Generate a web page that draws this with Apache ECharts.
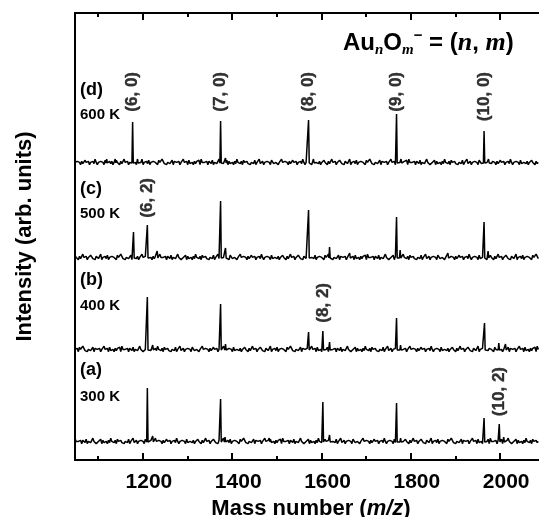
<!DOCTYPE html>
<html>
<head>
<meta charset="utf-8">
<script src="https://cdn.jsdelivr.net/npm/echarts@6/dist/echarts.min.js"></script>
<style>
  html, body { margin: 0; background: #fff; }
  #chart { width: 539px; height: 517px; }
</style>
</head>
<body>
<div id="chart"></div>
<script>
// x axis (mass number)
const massMin = 1048
const massMax = 2087
const majorTicks = [1200, 1400, 1600, 1800, 2000]
const minorTicks = [1100, 1300, 1500, 1700, 1900]

// panels, top to bottom
const panelNames = ['(d)', '(c)', '(b)', '(a)']
const temperatures = ['600 K', '500 K', '400 K', '300 K']

// peaks: [mass, height]
const peaksD = [[1119, 4], [1138, 4], [1177, 41], [1188, 4], [1374, 42], [1385, 5], [1571, 43], [1582, 4], [1768, 49], [1778, 4], [1964, 32], [1974, 4]]
const peaksC = [[1179, 26], [1210, 33], [1232, 7], [1374, 57], [1385, 10], [1571, 48], [1618, 11], [1663, 5], [1768, 41], [1776, 8], [1883, 5], [1964, 36], [1973, 7]]
const peaksB = [[1210, 53], [1222, 5], [1374, 46], [1385, 6], [1571, 18], [1603, 19], [1618, 8], [1768, 32], [1777, 5], [1965, 27], [1997, 7], [2012, 6]]
const peaksA = [[1210, 54], [1222, 6], [1374, 43], [1384, 5], [1483, 4], [1603, 40], [1618, 7], [1768, 39], [1777, 4], [1964, 24], [1998, 18], [2008, 5]]

// cluster labels
const labelsD = [['(6, 0)', 1177], ['(7, 0)', 1374], ['(8, 0)', 1571], ['(9, 0)', 1768], ['(10, 0)', 1964]]
const labelsC = [['(6, 2)', 1210]]
const labelsB = [['(8, 2)', 1603]]
const labelsA = [['(10, 2)', 1998]]

// baseline noise levels, read as digits
const noiseDigits = '213220312421302231520213320412231302142203125213022431203212502231402132230421531202312403221302152230412203132405212230321402213523012240312203152213042231202314022512302132204312230215'

// layout (in y-axis units = px above the plot bottom)
const baselines = [297, 202, 110, 18]
const labelTops = [388, 282, 177, 93]
const noiseOffsets = [0, 37, 71, 113]

const allPeaks = [peaksD, peaksC, peaksB, peaksA]
const allLabels = [labelsD, labelsC, labelsB, labelsA]

function buildTrace(peaks, base, offset) {
  const pts = []
  let i = 0
  for (let m = massMin; m <= massMax; m += 2.5, i++) {
    if (peaks.some(p => Math.abs(p[0] - m) < 2.5)) continue
    const d = +noiseDigits[(i + offset) % noiseDigits.length]
    pts.push([m, base + (d - 1.5) * 1.1])
  }
  peaks.forEach(p => {
    pts.push([p[0] - 1.5, base], [p[0], base + p[1]], [p[0] + 1.5, base])
  })
  pts.sort((a, b) => a[0] - b[0])
  return pts
}

const chart = echarts.init(document.getElementById('chart'))

const series = []
allPeaks.forEach((peaks, k) => {
  series.push({
    type: 'line',
    data: buildTrace(peaks, baselines[k], noiseOffsets[k]),
    showSymbol: false,
    lineStyle: { color: '#000', width: 1.5 },
    animation: false
  })
  series.push({
    type: 'scatter',
    symbolSize: 1,
    itemStyle: { color: 'rgba(0,0,0,0)' },
    data: allLabels[k].map(l => ({ value: [l[1], labelTops[k]], name: l[0] })),
    label: {
      show: true,
      formatter: p => p.name,
      position: 'inside',
      rotate: 90,
      align: 'right',
      verticalAlign: 'middle',
      color: '#000',
      textBorderColor: '#000',
      textBorderWidth: 0.4,
      fontFamily: 'Liberation Sans',
      fontWeight: 'bold',
      fontSize: 17
    },
    animation: false
  })
})

const textY = [[90, 115], [189, 214], [280, 306], [370, 397]]
const graphic = []
panelNames.forEach((n, k) => {
  graphic.push({
    type: 'text', x: 80, y: textY[k][0],
    style: { text: n, font: 'bold 18px "Liberation Sans"', fill: '#000', verticalAlign: 'middle' }
  })
  graphic.push({
    type: 'text', x: 80, y: textY[k][1],
    style: { text: temperatures[k], font: 'bold 15px "Liberation Sans"', fill: '#000', verticalAlign: 'middle' }
  })
})
graphic.push({
  type: 'text', x: 343, y: 43,
  style: {
    text: '{b|Au}{sub|n}{b|O}{sub|m}{sup|\u2212}{b| = (}{i|n}{b|, }{i|m}{b|)}',
    verticalAlign: 'middle',
    fill: '#000',
    rich: {
      b: { fontFamily: 'Liberation Sans', fontWeight: 'bold', fontSize: 24, lineHeight: 30 },
      sub: { fontFamily: 'Liberation Serif', fontStyle: 'italic', fontWeight: 'bold', fontSize: 15, lineHeight: 15, verticalAlign: 'bottom' },
      sup: { fontFamily: 'Liberation Sans', fontWeight: 'bold', fontSize: 15, lineHeight: 15, verticalAlign: 'top' },
      i: { fontFamily: 'Liberation Serif', fontStyle: 'italic', fontWeight: 'bold', fontSize: 26, lineHeight: 30 }
    }
  }
})

const axisLine = { show: true, onZero: false, lineStyle: { color: '#000', width: 2 } }
const tickStyle = { width: 2, color: '#000' }

chart.setOption({
  animation: false,
  grid: { left: 75, right: 0, top: 13, bottom: 57, outerBoundsMode: 'none', containLabel: false },
  xAxis: [
    {
      type: 'value', position: 'bottom', min: massMin, max: massMax,
      axisLine,
      splitLine: { show: false },
      axisTick: { show: true, inside: true, length: 7, customValues: majorTicks, lineStyle: tickStyle },
      axisLabel: {
        customValues: majorTicks, margin: 12, color: '#000',
        formatter: v => String(v),
        padding: [0, 0, 0, 12],
        fontFamily: 'Liberation Sans', fontWeight: 'bold', fontSize: 21
      },
      name: 'Mass number ({i|m/z})',
      nameLocation: 'middle',
      nameGap: 37,
      nameTextStyle: {
        color: '#000', fontFamily: 'Liberation Sans', fontWeight: 'bold', fontSize: 22,
        padding: [0, 0, 0, 8],
        rich: { i: { fontFamily: 'Liberation Sans', fontWeight: 'bold', fontStyle: 'italic', fontSize: 22 } }
      }
    },
    {
      type: 'value', position: 'bottom', min: massMin, max: massMax,
      axisLine,
      splitLine: { show: false },
      axisTick: { show: true, inside: true, length: 4, customValues: minorTicks, lineStyle: tickStyle },
      axisLabel: { show: false }
    },
    {
      type: 'value', position: 'top', min: massMin, max: massMax,
      axisLine,
      splitLine: { show: false },
      axisTick: { show: true, inside: true, length: 7, customValues: majorTicks, lineStyle: tickStyle },
      axisLabel: { show: false }
    },
    {
      type: 'value', position: 'top', min: massMin, max: massMax,
      axisLine,
      splitLine: { show: false },
      axisTick: { show: true, inside: true, length: 4, customValues: minorTicks, lineStyle: tickStyle },
      axisLabel: { show: false }
    }
  ],
  yAxis: {
    type: 'value', min: 0, max: 447,
    axisLine,
    axisTick: { show: false },
    axisLabel: { show: false },
    splitLine: { show: false },
    name: 'Intensity (arb. units)',
    nameLocation: 'middle',
    nameGap: 39,
    nameTextStyle: { color: '#000', fontFamily: 'Liberation Sans', fontWeight: 'bold', fontSize: 22 }
  },
  graphic,
  series
})
</script>
</body>
</html>
